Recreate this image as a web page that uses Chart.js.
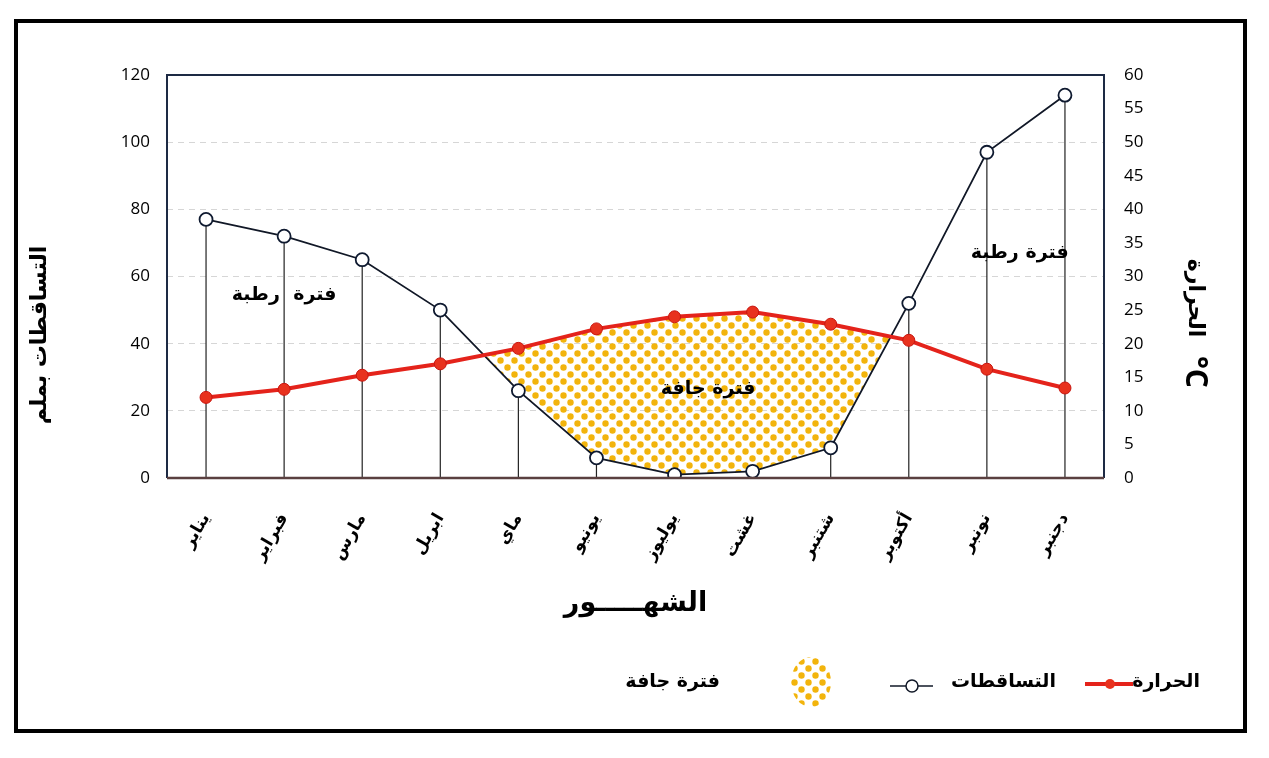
<!DOCTYPE html>
<html lang="ar">
<head>
<meta charset="utf-8">
<script src="https://cdn.jsdelivr.net/npm/chart.js@4.4.1/dist/chart.umd.min.js"></script>
<style>
html, body { margin: 0; padding: 0; background: #fff; }
#wrap { position: relative; width: 1269px; height: 758px; }
#frame { position: absolute; left: 14px; top: 19px; width: 1225px; height: 706px; border: 4px solid #000; }
#c { position: absolute; left: 0; top: 0; }
</style>
</head>
<body>
<div id="wrap">
  <div id="frame"></div>
  <canvas id="c" width="1269" height="758"></canvas>
</div>
<script>
const months = ['يناير', 'فبراير', 'مارس', 'ابريل', 'ماي', 'يونيو', 'يوليوز', 'غشت', 'شتنبر', 'أكتوبر', 'نونبر', 'دجنبر'];
const precipitation = [77, 72, 65, 50, 26, 6, 1, 2, 9, 52, 97, 114];
const temperature = [12, 13.2, 15.3, 17, 19.3, 22.2, 24, 24.7, 22.9, 20.5, 16.2, 13.4];
const precipTicks = [0, 20, 40, 60, 80, 100, 120];
const tempTicks = [0, 5, 10, 15, 20, 25, 30, 35, 40, 45, 50, 55, 60];

const AR = "'DejaVu Sans', sans-serif";
const NUM = "'Open Sans', sans-serif";
const YELLOW = '#f2b40c';

const ctx = document.getElementById('c').getContext('2d');

function dotPattern(color) {
    const tile = document.createElement('canvas');
    tile.width = 14;
    tile.height = 14;
    const g = tile.getContext('2d');
    g.fillStyle = color;
    [[3.5, 3.5], [10.5, 10.5]].forEach(([x, y]) => {
        g.beginPath();
        g.arc(x, y, 3.2, 0, Math.PI * 2);
        g.fill();
    });
    return ctx.createPattern(tile, 'repeat');
}
const dryFill = dotPattern(YELLOW);

// thin vertical lines from each precipitation point down to the axis
const dropLines = {
    id: 'dropLines',
    beforeDatasetsDraw(chart) {
        const meta = chart.getDatasetMeta(1);
        const c = chart.ctx;
        c.save();
        c.strokeStyle = '#222';
        c.lineWidth = 1.2;
        meta.data.forEach(pt => {
            c.beginPath();
            c.moveTo(pt.x, pt.y);
            c.lineTo(pt.x, chart.chartArea.bottom);
            c.stroke();
        });
        c.restore();
    }
};

const plotFrame = {
    id: 'plotFrame',
    afterDatasetsDraw(chart) {
        const {left, right, top, bottom} = chart.chartArea;
        const c = chart.ctx;
        c.save();
        c.strokeStyle = '#1d2a44';
        c.lineWidth = 2;
        c.beginPath();
        c.moveTo(left, bottom);
        c.lineTo(left, top);
        c.lineTo(right, top);
        c.lineTo(right, bottom);
        c.stroke();
        c.strokeStyle = '#5a4040';
        c.lineWidth = 2.5;
        c.beginPath();
        c.moveTo(left, bottom);
        c.lineTo(right, bottom);
        c.stroke();
        c.restore();
    }
};

// period labels inside the plot
const periodLabels = {
    id: 'periodLabels',
    afterDatasetsDraw(chart) {
        const x = chart.scales.x, y = chart.scales.y;
        const c = chart.ctx;
        c.save();
        c.fillStyle = '#000';
        c.font = 'bold 19px ' + AR;
        c.textAlign = 'center';
        c.textBaseline = 'middle';
        c.fillText('فترة  رطبة', x.getPixelForValue(1), y.getPixelForValue(54.5));
        c.fillText('فترة رطبة', x.getPixelForValue(10.42), y.getPixelForValue(67));
        c.fillText('فترة جافة', x.getPixelForValue(6.43), y.getPixelForValue(26.5));
        c.restore();
    }
};

// side titles, placed a bit below the axis centre like the original
const sideTitles = {
    id: 'sideTitles',
    afterDraw(chart) {
        const c = chart.ctx;
        c.save();
        c.fillStyle = '#000';
        c.textAlign = 'center';
        c.textBaseline = 'middle';
        c.translate(40, 335);
        c.rotate(-Math.PI / 2);
        c.font = 'bold 22px ' + AR;
        c.fillText('التساقطات بملم', 0, 0);
        c.restore();

        c.save();
        c.fillStyle = '#000';
        c.textAlign = 'center';
        c.textBaseline = 'middle';
        c.translate(1195, 0);
        c.rotate(Math.PI / 2);
        c.font = 'bold 22px ' + AR;
        c.fillText('الحرارة', 298, 0);
        c.font = 'bold 30px ' + NUM;
        c.fillText('°C', 372, 0);
        c.restore();
    }
};

const bottomLegend = {
    id: 'bottomLegend',
    afterDraw(chart) {
        const c = chart.ctx;
        const y = 682;
        c.save();
        c.font = 'bold 19px ' + AR;
        c.fillStyle = '#000';
        c.textBaseline = 'middle';
        c.textAlign = 'right';
        c.fillText('الحرارة', 1200, y);
        c.fillText('التساقطات', 1056, y);
        c.fillText('فترة جافة', 720, y);

        c.strokeStyle = '#e4231b';
        c.lineWidth = 4;
        c.beginPath();
        c.moveTo(1085, y + 2);
        c.lineTo(1133, y + 2);
        c.stroke();
        c.fillStyle = '#e8321e';
        c.beginPath();
        c.arc(1110, y + 2, 5, 0, Math.PI * 2);
        c.fill();

        c.strokeStyle = '#111827';
        c.lineWidth = 1.5;
        c.beginPath();
        c.moveTo(890, y + 4);
        c.lineTo(933, y + 4);
        c.stroke();
        c.fillStyle = '#fff';
        c.beginPath();
        c.arc(912, y + 4, 6, 0, Math.PI * 2);
        c.fill();
        c.stroke();

        c.fillStyle = dryFill;
        c.beginPath();
        c.ellipse(811, y, 20, 25, 0, 0, Math.PI * 2);
        c.fill();
        c.restore();
    }
};

new Chart(ctx, {
    type: 'line',
    data: {
        labels: months,
        datasets: [
            {
                label: 'الحرارة',
                data: temperature,
                yAxisID: 'y1',
                order: 0,
                borderColor: '#e4231b',
                borderWidth: 4,
                pointRadius: 6,
                pointBackgroundColor: '#e8321e',
                pointBorderColor: '#c8150f',
                pointBorderWidth: 1,
                tension: 0,
                fill: false
            },
            {
                label: 'التساقطات',
                data: precipitation,
                yAxisID: 'y',
                order: 1,
                borderColor: '#111827',
                borderWidth: 1.8,
                pointRadius: 6.5,
                pointBackgroundColor: '#fff',
                pointBorderColor: '#0f1a30',
                pointBorderWidth: 1.8,
                tension: 0,
                fill: {target: 0, above: 'rgba(0,0,0,0)', below: dryFill}
            }
        ]
    },
    options: {
        responsive: false,
        animation: false,
        layout: {padding: {top: 75, left: 0, right: 0, bottom: 130}},
        plugins: {
            legend: {display: false},
            tooltip: {enabled: false}
        },
        scales: {
            x: {
                offset: true,
                grid: {display: false, drawTicks: false},
                border: {display: false},
                ticks: {
                    minRotation: 60,
                    maxRotation: 60,
                    padding: 32,
                    color: '#000',
                    font: {family: AR, size: 17, weight: 'bold'}
                },
                title: {
                    display: true,
                    text: 'الشهـــــور',
                    color: '#000',
                    font: {family: AR, size: 27, weight: 'bold'},
                    padding: {top: 0, bottom: 8}
                },
                afterFit(scale) { scale.height = 150; }
            },
            y: {
                position: 'left',
                min: 0,
                max: 120,
                afterBuildTicks(scale) { scale.ticks = precipTicks.map(v => ({value: v})); },
                grid: {color: '#d6d6d6', lineWidth: 1, drawTicks: false},
                border: {display: false, dash: [6, 5]},
                ticks: {
                    padding: 17,
                    color: '#000',
                    font: {family: NUM, size: 17}
                },
                afterFit(scale) { scale.width = 167; }
            },
            y1: {
                position: 'right',
                min: 0,
                max: 60,
                afterBuildTicks(scale) { scale.ticks = tempTicks.map(v => ({value: v})); },
                grid: {display: false, drawTicks: false},
                border: {display: false},
                ticks: {
                    padding: 20,
                    color: '#000',
                    font: {family: NUM, size: 17}
                },
                afterFit(scale) { scale.width = 165; }
            }
        }
    },
    plugins: [dropLines, plotFrame, periodLabels, sideTitles, bottomLegend]
});
</script>
</body>
</html>
